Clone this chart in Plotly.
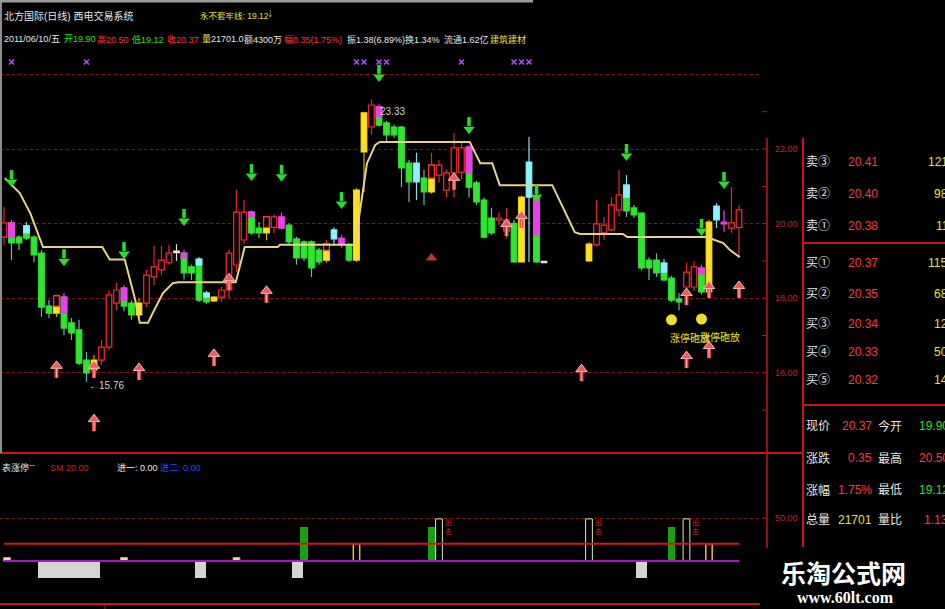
import plotly.graph_objects as go

W, H = 945, 609
FONT = "Liberation Sans, Noto Sans CJK SC, sans-serif"

# ---------------- candle data (price panel) ----------------
candle_x = list(range(0, 73)) + list(range(78, 99))
opens = [19.64, 20.02, 19.64, 19.94, 19.64, 19.21, 17.79, 18.06, 18.03, 17.34,
         17.15, 16.34, 16.34, 16.34, 16.69, 17.87, 18.27, 17.87, 17.87, 17.87,
         18.57, 18.76, 18.95, 19.22, 19.21, 18.84, 19.05, 18.14, 18.03, 18.03,
         18.22, 18.89, 19.56, 20.31, 19.88, 20.18, 19.90, 20.18, 19.96, 19.59,
         19.51, 19.51, 19.29, 19.45, 19.83, 19.61, 19.43, 20.90, 22.97, 22.59,
         23.13, 22.70, 22.59, 22.59, 21.62, 21.62, 21.22, 21.57, 21.30, 20.90,
         21.36, 21.38, 22.05, 21.09, 20.63, 20.15, 20.10, 19.80, 20.01, 20.71,
         21.65, 20.69, 18.99,
         19.45, 19.43, 19.75, 19.83, 20.36, 21.03, 20.42, 20.28, 19.02, 19.02,
         18.94, 18.54, 17.98, 18.30, 18.30, 18.81, 20.04, 20.47, 20.04, 19.88,
         19.90]
closes = [20.02, 19.48, 19.48, 19.61, 19.16, 17.76, 17.60, 17.60, 17.20, 17.07,
          16.26, 16.00, 16.08, 16.69, 18.09, 18.22, 17.79, 17.55, 17.55, 18.62,
          18.84, 19.02, 19.21, 19.25, 18.68, 18.68, 17.95, 17.90, 17.93, 18.22,
          19.21, 20.31, 20.31, 19.75, 19.75, 19.75, 20.18, 19.88, 19.51, 19.08,
          19.08, 18.81, 18.97, 19.02, 19.59, 19.43, 19.02, 19.02, 21.92, 23.18,
          22.64, 22.38, 22.38, 21.49, 21.12, 21.12, 20.85, 20.85, 21.57, 21.36,
          22.03, 22.03, 20.98, 20.58, 19.64, 19.75, 20.15, 20.10, 18.97, 18.97,
          20.71, 18.97, 18.95,
          19.00, 19.99, 19.96, 20.50, 20.77, 20.34, 20.23, 18.81, 18.81, 18.68,
          18.49, 17.95, 17.90, 18.70, 18.84, 18.17, 18.17, 20.10, 19.99, 20.02,
          20.37]
highs = [20.45, 20.10, 19.69, 20.04, 19.69, 19.29, 17.95, 18.10, 18.14, 17.47,
         17.42, 16.56, 16.48, 16.88, 18.22, 18.41, 18.35, 17.95, 18.00, 18.76,
         19.40, 19.40, 19.43, 19.45, 19.30, 18.90, 19.10, 18.20, 18.05, 18.30,
         19.30, 20.90, 20.63, 20.35, 20.04, 20.20, 20.25, 20.30, 20.00, 19.65,
         19.55, 19.55, 19.35, 19.56, 19.90, 19.70, 19.48, 20.95, 23.00, 23.33,
         23.20, 22.75, 22.65, 22.62, 21.71, 21.90, 21.44, 21.90, 21.70, 21.44,
         22.43, 22.20, 22.10, 21.15, 20.70, 20.42, 20.30, 20.42, 20.10, 20.75,
         22.32, 20.98, 18.99,
         19.50, 20.63, 20.18, 20.71, 21.44, 21.30, 20.50, 20.30, 19.10, 19.20,
         19.05, 18.60, 18.14, 18.95, 19.00, 18.90, 20.10, 20.55, 20.36, 20.98,
         20.50]
lows = [19.43, 19.02, 19.29, 19.56, 18.97, 17.50, 17.47, 17.50, 17.01, 16.88,
        16.21, 15.76, 15.86, 16.21, 16.61, 17.68, 17.65, 17.42, 17.47, 17.76,
        18.35, 18.62, 18.90, 19.00, 18.50, 18.49, 17.90, 17.85, 17.90, 17.90,
        18.00, 18.70, 19.45, 19.70, 19.61, 19.55, 19.75, 19.85, 19.45, 18.90,
        19.00, 18.57, 18.90, 18.95, 19.40, 19.35, 18.97, 18.97, 20.85, 22.38,
        22.60, 22.19, 22.30, 20.98, 20.58, 20.63, 20.50, 20.80, 21.10, 20.70,
        20.70, 21.20, 20.70, 20.50, 19.60, 19.70, 19.95, 19.60, 18.95, 18.95,
        18.97, 18.95, 18.95,
        18.98, 19.38, 19.56, 19.80, 20.20, 20.18, 20.15, 18.75, 18.49, 18.57,
        18.45, 17.90, 17.68, 18.20, 18.20, 18.10, 18.10, 19.88, 19.78, 19.75,
        19.12]
# body colour class: R hollow red, G green, M magenta, C cyan, Y yellow, W white
body_cls = ["R", "G", "G", "G", "G", "G", "G", "Y", "G", "G",
            "G", "G", "Y", "R", "R", "R", "G", "G", "Y", "R",
            "R", "R", "R", "W", "G", "G", "G", "G", "Y", "R",
            "R", "R", "R", "G", "G", "Y", "R", "M", "G", "G",
            "G", "G", "G", "Y", "C", "M", "G", "Y", "Y", "R",
            "G", "G", "G", "G", "G", "C", "G", "Y", "R", "R",
            "R", "R", "G", "G", "G", "G", "R", "R", "G", "Y",
            "C", "G", "W",
            "Y", "R", "R", "R", "R", "G", "G", "G", "G", "G",
            "G", "G", "G", "R", "R", "G", "Y", "C", "M", "R",
            "R"]
# optional upper colour segment of a body and the price where it ends
top_cls = {1: "M", 3: "C", 7: "R", 8: "M", 16: "M", 24: "M", 26: "C", 27: "C",
           33: "M", 35: "R", 43: "R", 50: "M", 57: "R", 62: "M", 71: "M",
           83: "C", 88: "C", 93: "M"}
top_split = {1: 19.64, 3: 19.75, 7: 17.79, 8: 17.60, 16: 17.95, 24: 19.08,
             26: 18.89, 27: 18.03, 33: 20.18, 35: 19.90, 43: 19.29, 50: 22.86,
             57: 21.22, 62: 21.36, 71: 19.69, 83: 20.71, 88: 18.70, 93: 18.65}

# "永不套牢线" guard line vertices (index, price)
guard_x = [0.1, 2.1, 3.5, 4.4, 5.1, 5.2, 13.1, 14.1, 16.1, 17.5, 18.1, 19.2,
           19.7, 21.2, 22.5, 23.2, 30.9, 32.1, 36.5, 36.8, 46.8, 47.7, 48.4,
           49.5, 50.1, 62.1, 63.5, 65.1, 66.1, 73.1, 76.1, 76.8, 82.5, 83.1,
           93.7, 95.9, 96.8, 98.1]
guard_y = [21.22, 20.82, 20.28, 19.77, 19.43, 19.37, 19.37, 19.04, 19.04, 17.95,
           17.34, 17.34, 17.55, 18.14, 18.40, 18.43, 18.43, 19.37, 19.37, 19.43,
           19.43, 20.63, 21.62, 22.11, 22.19, 22.19, 21.62, 21.62, 21.03, 21.03,
           19.77, 19.72, 19.72, 19.64, 19.64, 19.48, 19.29, 19.10]

# signals
sell_x = [1, 8, 16, 24, 33, 37, 45, 50, 62, 71, 83, 93, 96]
sell_y = [21.22, 19.10, 19.29, 20.18, 21.38, 21.36, 20.63, 24.04, 22.64, 20.82,
          21.92, 19.91, 21.17]
buy_x = [7, 12, 18, 28, 12, 35, 30, 60, 67, 69, 77, 91, 94, 98, 91, 94]
buy_y = [16.08, 16.08, 16.02, 16.40, 14.65, 18.09, 18.43, 21.12, 19.88, 20.10,
         15.99, 18.03, 18.22, 18.22, 16.34, 16.61]
tri_x = [57]
tri_y = [19.08]
xmark_x = [1, 11, 47, 48, 50, 51, 61, 68, 69, 70]
xmark_y = [24.33] * len(xmark_x)
balloon_x = [89, 93]
balloon_y = [17.42, 17.44]
low_mark = (11, 15.76)
high_mark = (49, 23.33)
price_ticks = [16, 18, 20, 22]

# ---------------- lower indicator panel ----------------
sm_level = 20.0
zero_level = 0.0
green_x = [40, 57, 89]
green_v = [40, 40, 40]
gray_start = [4.5, 25.5, 38.4, 84.3]
gray_end = [12.8, 26.9, 39.9, 85.7]
gray_v = [-20, -20, -20, -20]
outline_x = [58, 78, 91]
outline_v = [49, 49, 49]
yellow_x = [47, 94]
yellow_v = [20, 20]
tan_x = [0.4, 16, 31]
tan_v = [4, 4, 4]

# order book
ask_labels = ["卖③", "卖②", "卖①"]
ask_prices = ["20.41", "20.40", "20.38"]
ask_vols = ["121", "98", "11"]
bid_labels = ["买①", "买②", "买③", "买④", "买⑤"]
bid_prices = ["20.37", "20.35", "20.34", "20.33", "20.32"]
bid_vols = ["115", "68", "12", "50", "14"]

# ---------------- styling ----------------
COL = {"G": "#2ee62e", "M": "#f03cf0", "C": "#8cf0ff", "Y": "#ffe01a",
       "R": "#ff2b2b", "W": "#f4e6e6"}
WICK = {"G": "#6fb8b0", "M": "#e050e0", "C": "#8ce0f0", "Y": "#d8b000",
        "R": "#e02a2a", "W": "#e8d8d8"}
PPU = 37.3  # pixels per price unit (for arrow geometry)

X_RANGE = [-0.533, 100.8]
Y_RANGE = [13.85, 24.52]
Y2_RANGE = [-55.8, 125.6]
SPLIT = 1 - 453 / H

fig = go.Figure()

# ---- bodies ----
base, length, fill, edge = [], [], [], []
for o, c, k in zip(opens, closes, body_cls):
    lo, hi = min(o, c), max(o, c)
    base.append(lo)
    length.append(max(hi - lo, 0.04))
    fill.append("#000000" if k == "R" else COL[k])
    edge.append(COL[k])
fig.add_trace(go.Bar(x=candle_x, y=length, base=base, width=0.74,
                     marker=dict(color=fill, line=dict(color=edge, width=1.2)),
                     hoverinfo="skip", yaxis="y"))

tx, tb, tl, tf, te = [], [], [], [], []
for xv, o, c in zip(candle_x, opens, closes):
    if xv in top_cls:
        k = top_cls[xv]
        hi = max(o, c)
        tx.append(xv)
        tb.append(top_split[xv])
        tl.append(hi - top_split[xv])
        tf.append("#000000" if k == "R" else COL[k])
        te.append(COL[k])
fig.add_trace(go.Bar(x=tx, y=tl, base=tb, width=0.74,
                     marker=dict(color=tf, line=dict(color=te, width=1.2)),
                     hoverinfo="skip", yaxis="y"))

# ---- wicks ----
wick_seg = {}
for xv, o, c, h, l, k in zip(candle_x, opens, closes, highs, lows, body_cls):
    hi, lo = max(o, c), min(o, c)
    ku = top_cls.get(xv, k)
    if h > hi:
        wick_seg.setdefault(ku, ([], []))
        wick_seg[ku][0].extend([xv, xv, None])
        wick_seg[ku][1].extend([hi, h, None])
    if l < lo:
        wick_seg.setdefault(k, ([], []))
        wick_seg[k][0].extend([xv, xv, None])
        wick_seg[k][1].extend([l, lo, None])
for k, (wx, wy) in wick_seg.items():
    fig.add_trace(go.Scatter(x=wx, y=wy, mode="lines",
                             line=dict(color=WICK[k], width=1.2),
                             hoverinfo="skip", yaxis="y"))

# ---- guard line ----
fig.add_trace(go.Scatter(x=guard_x, y=guard_y, mode="lines",
                         line=dict(color="#e6d28c", width=2),
                         hoverinfo="skip", yaxis="y"))

# ---- sell arrows (green, down) ----
sx, sy = [], []
for xv, yv in zip(sell_x, sell_y):
    sx += [xv, xv, None]
    sy += [yv + 8 / PPU, yv - 1 / PPU, None]
fig.add_trace(go.Scatter(x=sx, y=sy, mode="lines",
                         line=dict(color="#2bdc2b", width=3.5),
                         hoverinfo="skip", yaxis="y"))
fig.add_trace(go.Scatter(x=sell_x, y=[v - 4 / PPU for v in sell_y], mode="markers",
                         marker=dict(symbol="triangle-down", size=10, color="#2bdc2b"),
                         hoverinfo="skip", yaxis="y"))

# ---- buy arrows (red, up) ----
bx, by = [], []
for xv, yv in zip(buy_x, buy_y):
    bx += [xv, xv, None]
    by += [yv + 1 / PPU, yv - 8 / PPU, None]
fig.add_trace(go.Scatter(x=bx, y=by, mode="lines",
                         line=dict(color="#e84040", width=4),
                         hoverinfo="skip", yaxis="y"))
fig.add_trace(go.Scatter(x=bx, y=by, mode="lines",
                         line=dict(color="#ffa8a8", width=1.2),
                         hoverinfo="skip", yaxis="y"))
fig.add_trace(go.Scatter(x=buy_x, y=[v + 4 / PPU for v in buy_y], mode="markers",
                         marker=dict(symbol="triangle-up", size=10, color="#f05a5a",
                                     line=dict(color="#ffb8b8", width=1)),
                         hoverinfo="skip", yaxis="y"))
fig.add_trace(go.Scatter(x=tri_x, y=tri_y, mode="markers",
                         marker=dict(symbol="triangle-up", size=10, color="#c83232"),
                         hoverinfo="skip", yaxis="y"))

# ---- x marks & balloons ----
fig.add_trace(go.Scatter(x=xmark_x, y=xmark_y, mode="markers",
                         marker=dict(symbol="x-thin", size=5,
                                     line=dict(color="#b050ff", width=1.5)),
                         hoverinfo="skip", yaxis="y"))
fig.add_trace(go.Scatter(x=balloon_x, y=balloon_y, mode="markers",
                         marker=dict(symbol="circle", size=11, color="#f2e020"),
                         hoverinfo="skip", yaxis="y"))

# ---------------- lower panel ----------------
fig.add_trace(go.Scatter(x=[candle_x[0], candle_x[-1]], y=[sm_level, sm_level],
                         mode="lines", line=dict(color="#d01818", width=2),
                         hoverinfo="skip", yaxis="y2"))
fig.add_trace(go.Scatter(x=[candle_x[0], candle_x[-1]], y=[zero_level, zero_level],
                         mode="lines", line=dict(color="#a818c8", width=2),
                         hoverinfo="skip", yaxis="y2"))
fig.add_trace(go.Bar(x=[(a + b) / 2 for a, b in zip(gray_start, gray_end)], y=gray_v,
                     base=0, width=[b - a for a, b in zip(gray_start, gray_end)],
                     marker=dict(color="#d4d4d4", line=dict(width=0)),
                     hoverinfo="skip", yaxis="y2"))
fig.add_trace(go.Bar(x=green_x, y=green_v, base=0, width=1.05,
                     marker=dict(color="#16a016", line=dict(width=0)),
                     hoverinfo="skip", yaxis="y2"))
fig.add_trace(go.Bar(x=outline_x, y=outline_v, base=0, width=0.9,
                     marker=dict(color="rgba(0,0,0,0)", line=dict(color="#c8f0c8", width=1)),
                     hoverinfo="skip", yaxis="y2"))
fig.add_trace(go.Bar(x=yellow_x, y=yellow_v, base=0, width=0.85,
                     marker=dict(color="#000000", line=dict(color="#e8c020", width=1.5)),
                     hoverinfo="skip", yaxis="y2"))
fig.add_trace(go.Bar(x=tan_x, y=tan_v, base=0, width=0.9,
                     marker=dict(color="#f0d8b0", line=dict(color="#e0a070", width=1)),
                     hoverinfo="skip", yaxis="y2"))

# ---------------- annotations ----------------
ann = []


def T(x, y, text, color, size=9, anchor="left", family=FONT, yanchor="middle"):
    ann.append(dict(x=x / W, y=1 - y / H, xref="paper", yref="paper", text=text,
                    showarrow=False, xanchor=anchor, yanchor=yanchor,
                    font=dict(color=color, size=size, family=family)))


WHITE, GREEN, RED, YEL = "#e6e6e6", "#22e022", "#ff3232", "#e8e040"
HS = 9
T(2, 16, "北方国际(日线) 西电交易系统", WHITE, 10)
T(198, 16, "永不套牢线: 19.12", YEL, 8.5)
last = -1
T(2, 39, "2011/06/10/五", WHITE, HS)
T(62, 39, f"开{opens[last]:.2f}", GREEN, HS)
T(95, 39, f"高{highs[last]:.2f}", RED, HS)
T(130, 39, f"低{lows[last]:.2f}", GREEN, HS)
T(165, 39, f"收{closes[last]:.2f}", RED, HS)
T(200, 39, f"<span style='color:{YEL}'>量</span>21701.0", WHITE, HS)
T(242, 39, "额4300万", WHITE, HS)
T(282, 39, "幅0.35(1.75%)", RED, HS)
T(345, 39, "振1.38(6.89%)", WHITE, HS)
T(403, 39, "换1.34%", WHITE, HS)
T(442, 39, "流通1.62亿", WHITE, HS)
T(488, 39, "建筑建材", YEL, HS)

# price labels on the data axis
for p in price_ticks:
    ann.append(dict(x=800 / W, y=p, xref="paper", yref="y", text=f"{p:.2f}",
                    showarrow=False, xanchor="right", yanchor="middle",
                    font=dict(color="#c02020", size=9, family=FONT)))
ann.append(dict(x=800 / W, y=50, xref="paper", yref="y2", text="50.00",
                showarrow=False, xanchor="right", yanchor="middle",
                font=dict(color="#c02020", size=9, family=FONT)))

# extreme labels
ann.append(dict(x=low_mark[0], y=low_mark[1], xref="x", yref="y",
                text=f"←{low_mark[1]:.2f}", showarrow=False, xanchor="left",
                yanchor="middle", yshift=-4, font=dict(color="#d0d0d0", size=10, family=FONT)))
ann.append(dict(x=high_mark[0], y=high_mark[1], xref="x", yref="y",
                text=f"{high_mark[1]:.2f}", showarrow=False, xanchor="left",
                yanchor="middle", xshift=6, yshift=-12,
                font=dict(color="#d0d0d0", size=10, family=FONT)))
for bxv, byv in zip(balloon_x, balloon_y):
    ann.append(dict(x=bxv, y=byv, xref="x", yref="y", text="涨停砲放",
                    showarrow=False, xanchor="left", yanchor="middle",
                    xshift=-4, yshift=-18,
                    font=dict(color="#ece030", size=10, family=FONT)))
for oxv in outline_x:
    ann.append(dict(x=oxv + 1.2, y=40, xref="x", yref="y2", text="出<br>击",
                    showarrow=False, xanchor="center", yanchor="middle",
                    font=dict(color="#e02020", size=7, family=FONT)))

# lower panel title
T(0, 468, "表涨停ˉˉ", WHITE, 9)
T(48, 468, f"SM {sm_level:.2f}", "#d02020", 9)
T(115, 468, "进一: 0.00", WHITE, 9)
T(158, 468, "进二: 0.00", "#2848ff", 9)

# order book
OB = "Liberation Sans Narrow, Liberation Sans, Noto Sans CJK SC"
ask_y = [162, 194, 226]
bid_y = [263, 294, 324, 352, 380]
ask_vx = [926, 932, 934]
bid_vx = [926, 932, 932, 932, 932]
for lab, pr, vol, yy, vx in zip(ask_labels, ask_prices, ask_vols, ask_y, ask_vx):
    T(804, yy, lab, WHITE, 12, family=OB)
    T(846, yy, pr, "#ff3838", 12, family=OB)
    T(vx, yy, vol, "#e0e040", 12, family=OB)
for lab, pr, vol, yy, vx in zip(bid_labels, bid_prices, bid_vols, bid_y, bid_vx):
    T(804, yy, lab, WHITE, 12, family=OB)
    T(846, yy, pr, "#ff3838", 12, family=OB)
    T(vx, yy, vol, "#e0e040", 12, family=OB)

rows_y = [426, 458, 490, 520]
T(804, rows_y[0], "现价", WHITE, 12)
T(874, rows_y[0], f"{closes[last]:.2f}", "#ff3838", 12, anchor="right", family=OB)
T(876, rows_y[0], "今开", WHITE, 12)
T(917, rows_y[0], f"{opens[last]:.2f}", GREEN, 12, family=OB)
T(804, rows_y[1], "涨跌", WHITE, 12)
T(874, rows_y[1], "0.35", "#ff3838", 12, anchor="right", family=OB)
T(876, rows_y[1], "最高", WHITE, 12)
T(917, rows_y[1], f"{highs[last]:.2f}", "#ff3838", 12, family=OB)
T(804, rows_y[2], "涨幅", WHITE, 12)
T(874, rows_y[2], "1.75%", "#ff3838", 12, anchor="right", family=OB)
T(876, rows_y[2], "最低", WHITE, 12)
T(917, rows_y[2], f"{lows[last]:.2f}", GREEN, 12, family=OB)
T(804, rows_y[3], "总量", WHITE, 12)
T(874, rows_y[3], "21701", "#e0e040", 12, anchor="right", family=OB)
T(876, rows_y[3], "量比", WHITE, 12)
T(922, rows_y[3], "1.13", "#ff3838", 12, family=OB)

# watermark
T(843, 572, "<b>乐淘公式网</b>", "#ffffff", 25, anchor="center",
  family="Noto Sans CJK SC")
T(845, 597, "<b>www.60lt.com</b>", "#ffffff", 16, anchor="center",
  family="Liberation Serif, DejaVu Serif, serif")
T(270, 13, "↓", "#80e0ff", 12, anchor="center")

# ---------------- shapes (frame) ----------------
shapes = []


def L(x0, y0, x1, y1, color, width, dash=None):
    shapes.append(dict(type="line", xref="paper", yref="paper",
                       x0=x0 / W, y0=1 - y0 / H, x1=x1 / W, y1=1 - y1 / H,
                       line=dict(color=color, width=width, dash=dash)))


RL = "#c81414"
L(0, 453, 803, 453, RL, 2)
L(0, 604, 760, 604, RL, 2)
L(767, 138, 767, 548, RL, 1.5)
L(803, 138, 803, 547, RL, 2)
L(803, 243, 945, 243, RL, 2)
L(803, 405, 945, 405, RL, 2)
L(1, 0, 1, 453, "#8c8c8c", 2)
L(0, 1, 533, 1, "#9a9a9a", 3)
L(105, 604, 105, 609, RL, 1)
for p in range(15, 24):
    shapes.append(dict(type="line", xref="paper", yref="y", x0=762 / W, x1=767 / W,
                       y0=p, y1=p, line=dict(color=RL, width=1)))
shapes.append(dict(type="line", xref="paper", yref="y2", x0=762 / W, x1=767 / W,
                   y0=50, y1=50, line=dict(color=RL, width=1)))

fig.update_layout(
    width=W, height=H, autosize=False,
    margin=dict(l=0, r=0, t=0, b=0),
    paper_bgcolor="#000000", plot_bgcolor="#000000",
    showlegend=False, barmode="overlay", bargap=0,
    xaxis=dict(domain=[0, 760 / W], range=X_RANGE, visible=False, fixedrange=True),
    yaxis=dict(domain=[SPLIT, 1 - 55 / H], range=Y_RANGE, showgrid=True,
               tickvals=[16, 18, 20, 22, 24], gridcolor="#801818", griddash="dot",
               gridwidth=1, showticklabels=False, zeroline=False, showline=False,
               ticks="", fixedrange=True),
    yaxis2=dict(domain=[0, SPLIT], range=Y2_RANGE, anchor="x", showgrid=True,
                tickvals=[50], gridcolor="#801818", griddash="dot", gridwidth=1,
                showticklabels=False, zeroline=False, showline=False, ticks="",
                fixedrange=True),
    annotations=ann, shapes=shapes,
)

fig.write_html(
    "out.html",
    config={"displayModeBar": False, "staticPlot": True},
    post_script="document.body.style.margin='0';"
                "document.body.style.background='#000';"
                "document.body.style.overflow='hidden';",
)
